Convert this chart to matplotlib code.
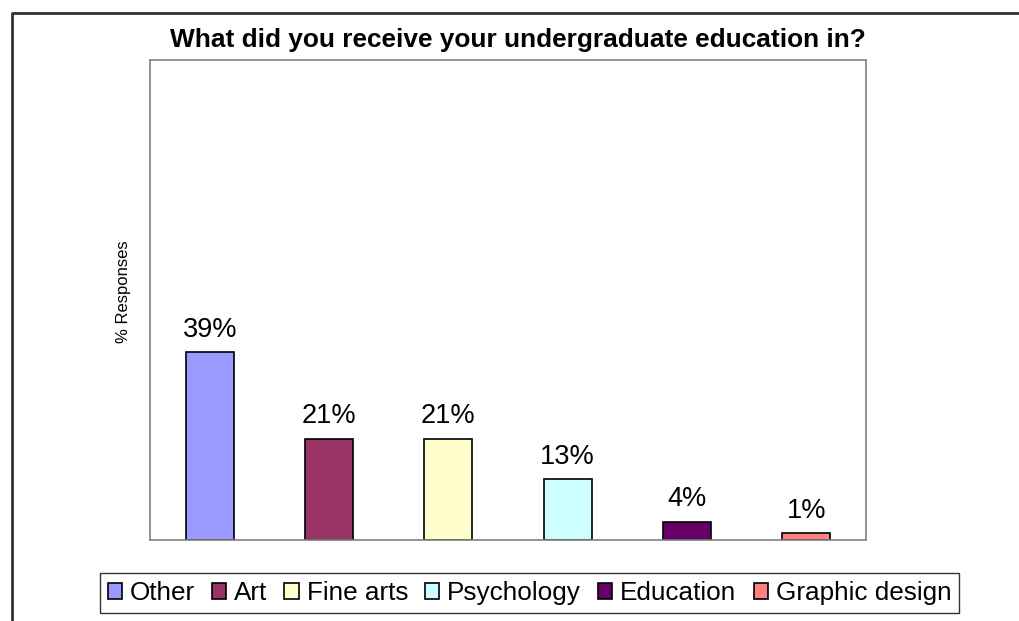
import matplotlib.pyplot as plt
from matplotlib.lines import Line2D

categories = ['Other', 'Art', 'Fine arts', 'Psychology', 'Education', 'Graphic design']
responses = [39.2, 21.1, 21.1, 12.7, 3.8, 1.4]
colors = ['#9999FF', '#993366', '#FFFFCC', '#CCFFFF', '#660066', '#FF8080']

plt.rcParams['font.family'] = ['Liberation Sans', 'DejaVu Sans']

fig = plt.figure(figsize=(10.2, 6.21), dpi=100)
ax = fig.add_axes([150 / 1020, 81 / 621, 716 / 1020, 480 / 621])

x = list(range(len(categories)))
bars = ax.bar(x, responses, width=0.4, color=colors, edgecolor='black',
              linewidth=1.2, label=categories)
for xi, v in zip(x, responses):
    ax.annotate(f'{v:.0f}%', (xi, v), xytext=(0, 11), textcoords='offset points',
                ha='center', va='baseline', fontsize=19.5)

ax.set_xlim(-0.5, len(categories) - 0.5)
ax.set_ylim(0, 100)
ax.set_xticks([])
ax.set_yticks([])
for s in ax.spines.values():
    s.set_color('#808080')
    s.set_linewidth(1.2)

ax.set_ylabel('% Responses', fontsize=12)
ax.yaxis.set_label_coords(-0.027, 0.517)

fig.text(0.508, 1 - 47 / 621, 'What did you receive your undergraduate education in?',
         ha='center', va='baseline', fontsize=18.9, fontweight='bold')

# chart border (left and top edges visible)
bx, by = 12 / 1020, 1 - 13 / 621
fig.add_artist(Line2D([bx, bx, 1], [0, by, by], color='#333333', linewidth=2,
                      transform=fig.transFigure))

leg = fig.legend(bars, categories, loc='center', bbox_to_anchor=(529.5 / 1020, 1 - 593 / 621),
                 ncol=6, fontsize=18.8, frameon=True, fancybox=False, edgecolor='black',
                 handlelength=0.55, handleheight=0.55, handletextpad=0.3,
                 columnspacing=0.65, borderpad=0.3, borderaxespad=0)
leg.get_frame().set_linewidth(1.0)

fig.savefig('out.png', dpi=100)
